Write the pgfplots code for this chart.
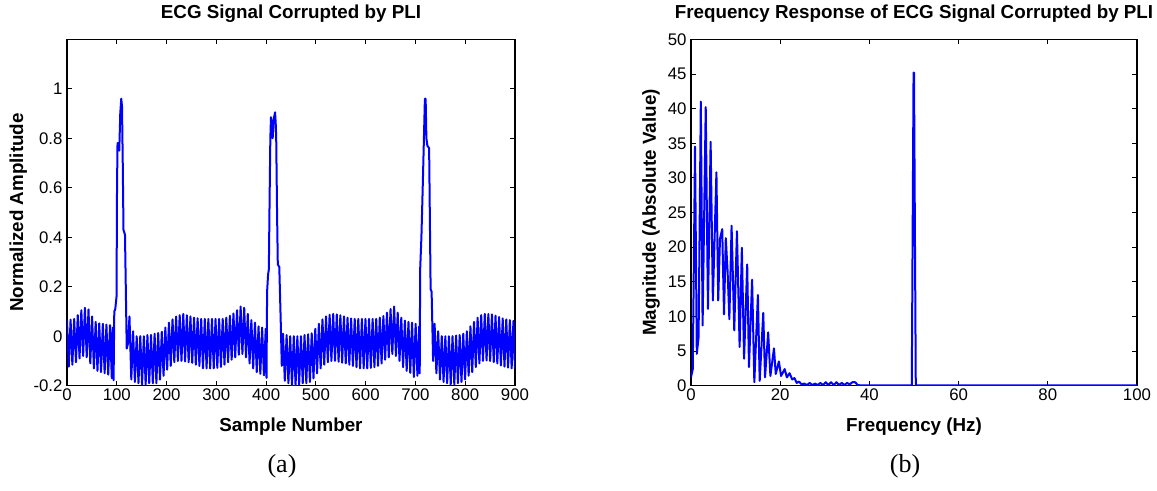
\documentclass[border=0pt]{standalone}
\usepackage{fontspec}
\setmainfont{Liberation Sans}
\newfontfamily\timesfont{Liberation Serif}
\usepackage{pgfplots}
\pgfplotsset{compat=1.18}
\definecolor{mblue}{RGB}{0,0,255}
\pgfplotsset{
  matlab/.style={
    scale only axis,
    height=259.8pt,
    axis line style={line width=0.8pt},
    tick align=inside,
    major tick length=3.5pt,
    every tick/.style={black, line width=0.6pt},
    tick label style={font=\fontsize{12.6}{14}\selectfont},
    xticklabel style={anchor=north, inner sep=0pt, yshift=-2.1pt},
    yticklabel style={anchor=east, inner sep=0pt, xshift=-3.2pt},
    title style={font=\bfseries\fontsize{14.1}{16}\selectfont, at={(0.5,1)}, anchor=base, yshift=9.45pt, inner sep=0pt},
    every axis x label/.style={at={(axis description cs:0.5,0)}, anchor=base, yshift=-34pt, font=\bfseries\fontsize{14.1}{16}\selectfont, inner sep=0pt},
    every axis y label/.style={rotate=90, anchor=base, font=\bfseries\fontsize{14.1}{16}\selectfont, inner sep=0pt},
  },
  sig/.style={mblue, line width=1.5pt, line join=round, no markers},
}
\begin{document}
\begin{tikzpicture}
\useasboundingbox (0,0) rectangle (867.75pt,-368.25pt);
\begin{axis}[matlab,
  at={(50.25pt,-289.28pt)}, anchor=south west,
  width=336pt,
  xmin=0, xmax=900, ymin=-0.2, ymax=1.2,
  xtick={0,100,...,900},
  xticklabels={0,100,200,300,400,500,600,700,800,900},
  ytick={-0.2,0,0.2,0.4,0.6,0.8,1},
  yticklabels={-0.2,0,0.2,0.4,0.6,0.8,1},
  title={ECG Signal Corrupted by PLI},
  xlabel={Sample Number},
  ylabel={Normalized Amplitude},
  ylabel style={at={(axis description cs:-0.0982,0.5)}},
]
\addplot[sig] coordinates {
(0,0.065) (3.6,-0.123) (7.2,0.067) (10.8,-0.115) (14.4,0.07) (18,-0.105) (21.6,0.085) (25.2,-0.09) (28.8,0.105) (32.4,-0.08) (36,0.115) (39.6,-0.085) (43.2,0.108) (46.8,-0.11) (50.4,0.08) (54,-0.13) (57.6,0.058) (61.2,-0.14) (64.8,0.052) (68.4,-0.145) (72,0.05) (75.6,-0.15) (79.2,0.047) (82.8,-0.155) (86.4,0.045) (90,-0.17) (92,0.035) (93.6,-0.178)
(95,0.1) (97,0.11) (99.5,0.16) (100.5,0.6) (101.5,0.78) (104,0.78) (105,0.75) (107,0.9) (109,0.96) (110.5,0.93) (112,0.7) (113.5,0.43) (116.5,0.41) (120,-0.05) (122.5,-0.03) (125.5,0.08)
(129.2,-0.175) (132.8,0.02) (136.4,-0.185) (140,0.0) (143.6,-0.19) (147.2,0.0) (150.8,-0.195) (154.4,0.0) (158,-0.195) (161.6,0.005) (165.2,-0.19) (168.8,0.005) (172.4,-0.19) (176,0.01) (179.6,-0.19) (183.2,0.013) (186.8,-0.175) (190.4,0.018) (194,-0.16) (197.6,0.035) (201.2,-0.135) (204.8,0.055) (208.4,-0.12) (212,0.068) (215.6,-0.105) (219.2,0.08) (222.8,-0.1) (226.4,0.085) (230,-0.1) (233.6,0.09) (237.2,-0.102) (240.8,0.085) (244.4,-0.105) (248,0.08) (251.6,-0.108) (255.2,0.075) (258.8,-0.115) (262.4,0.073) (266,-0.12) (269.6,0.07) (273.2,-0.13) (276.8,0.07) (280.4,-0.13) (284,0.07) (287.6,-0.13) (291.2,0.07) (294.8,-0.13) (298.4,0.07) (302,-0.128) (305.6,0.07) (309.2,-0.124) (312.8,0.07) (316.4,-0.115) (320,0.075) (323.6,-0.105) (327.2,0.083) (330.8,-0.095) (334.4,0.092) (338,-0.085) (341.6,0.105) (345.2,-0.075) (348.8,0.12) (352.4,-0.072) (356,0.115) (359.6,-0.085) (363.2,0.09) (366.8,-0.11) (370.4,0.065) (374,-0.13) (377.6,0.055) (381.2,-0.145) (384.8,0.04) (388.4,-0.152) (392,0.035) (395.6,-0.158) (399.2,0.03)
(400.8,-0.168) (402,0.18) (404,0.25) (405.5,0.27) (407,0.55) (408.5,0.8) (409.8,0.885) (411.3,0.86) (413.2,0.80) (415.5,0.88) (418,0.905) (419.3,0.86) (420.3,0.80) (422,0.5) (423.5,0.29) (426.5,0.28) (429.5,0.05) (431.5,-0.12)
(434,0.01) (437.6,-0.18) (441.2,0.005) (444.8,-0.19) (448.4,0.0) (452,-0.2) (455.6,0.0) (459.2,-0.2) (462.8,0.0) (466.4,-0.195) (470,0.0) (473.6,-0.19) (477.2,0.005) (480.8,-0.19) (484.4,0.008) (488,-0.185) (491.6,0.012) (495.2,-0.17) (498.8,0.03) (502.4,-0.15) (506,0.05) (509.6,-0.13) (513.2,0.068) (516.8,-0.115) (520.4,0.08) (524,-0.105) (527.6,0.087) (531.2,-0.1) (534.8,0.09) (538.4,-0.1) (542,0.088) (545.6,-0.103) (549.2,0.085) (552.8,-0.107) (556.4,0.08) (560,-0.11) (563.6,0.075) (567.2,-0.115) (570.8,0.072) (574.4,-0.12) (578,0.07) (581.6,-0.125) (585.2,0.07) (588.8,-0.13) (592.4,0.07) (596,-0.13) (599.6,0.07) (603.2,-0.13) (606.8,0.07) (610.4,-0.128) (614,0.07) (617.6,-0.125) (621.2,0.07) (624.8,-0.12) (628.4,0.075) (632,-0.11) (635.6,0.082) (639.2,-0.095) (642.8,0.095) (646.4,-0.085) (650,0.11) (653.6,-0.072) (657.2,0.12) (660.8,-0.08) (664.4,0.095) (668,-0.1) (671.6,0.075) (675.2,-0.125) (678.8,0.063) (682.4,-0.14) (686,0.058) (689.6,-0.148) (693.2,0.055) (696.8,-0.165) (700.4,0.05) (704,-0.16) (707.6,0.04)
(708.6,-0.15) (709.5,0.27) (712,0.40) (715,0.63) (719,0.96) (720.5,0.96) (722,0.80) (724,0.77) (727.5,0.76) (730.5,0.19) (732.5,0.18) (735.5,-0.1)
(738.5,0.05) (742.1,-0.15) (745.7,0.02) (749.3,-0.175) (752.9,0.0) (756.5,-0.185) (760.1,0.0) (763.7,-0.19) (767.3,0.0) (770.9,-0.195) (774.5,0.0) (778.1,-0.195) (781.7,0.003) (785.3,-0.19) (788.9,0.005) (792.5,-0.185) (796.1,0.01) (799.7,-0.175) (803.3,0.02) (806.9,-0.16) (810.5,0.04) (814.1,-0.145) (817.7,0.058) (821.3,-0.125) (824.9,0.075) (828.5,-0.11) (832.1,0.085) (835.7,-0.1) (839.3,0.09) (842.9,-0.098) (846.5,0.09) (850.1,-0.1) (853.7,0.088) (857.3,-0.105) (860.9,0.083) (864.5,-0.11) (868.1,0.078) (871.7,-0.118) (875.3,0.072) (878.9,-0.123) (882.5,0.068) (886.1,-0.127) (889.7,0.065) (893.3,-0.13) (896.9,0.062) (900,-0.13)
};
\end{axis}
\begin{axis}[matlab,
  at={(518.25pt,-289.28pt)}, anchor=south west,
  width=334.5pt,
  xmin=0, xmax=100, ymin=0, ymax=50,
  xtick={0,20,...,100},
  xticklabels={0,20,40,60,80,100},
  ytick={0,5,...,50},
  yticklabels={0,5,10,15,20,25,30,35,40,45,50},
  title={Frequency Response of ECG Signal Corrupted by PLI},
  xlabel={Frequency (Hz)},
  ylabel={Magnitude (Absolute Value)},
  ylabel style={at={(axis description cs:-0.0785,0.5)}},
]
\addplot[sig] coordinates {
(0,1.2) (0.4,2.4) (0.9,34.5) (1.3,4.6) (1.7,7.0) (2.2,41.0) (2.6,8.7) (3.3,40.2) (3.8,11.1) (4.4,35.2) (4.9,12.3) (5.7,30.8) (6.1,12.3) (6.5,21.2) (7.0,22.6) (7.4,10.3) (7.8,21.3) (8.2,16.6) (8.6,9.6) (9.1,23.1) (9.7,8.0) (10.3,22.3) (10.9,5.6) (11.4,19.9) (11.9,3.9) (12.6,17.5) (13.0,2.7) (13.7,15.3) (14.2,0.5) (15.0,13.1) (15.4,0.7) (16.2,10.5) (16.6,1.2) (17.3,7.7) (17.8,1.4) (18.6,5.4) (19.0,1.7) (19.7,3.5) (20.2,1.4) (21.0,2.4) (21.5,1.2) (22.1,1.8) (22.7,0.9) (23.2,1.1) (23.7,0.4) (24.2,0.6) (24.8,0.2) (25.4,0.3) (26.0,0.1) (26.6,0.4) (27.2,0.1) (27.8,0.3) (28.4,0.1) (29.0,0.4) (29.6,0.1) (30.2,0.5) (30.8,0.1) (31.4,0.5) (32.0,0.1) (32.6,0.5) (33.2,0.1) (33.8,0.4) (34.4,0.1) (35.0,0.4) (35.6,0.2) (36.2,0.5) (36.8,0.5) (37.4,0.1) (38,0.05) (49.5,0.05) (49.9,45.2) (50.0,45.2) (50.4,0.05) (100,0.05)
};
\end{axis}
\node[font=\timesfont\fontsize{19.5}{21}\selectfont] at (211.5pt,-349.5pt) {(a)};
\node[font=\timesfont\fontsize{19.5}{21}\selectfont] at (678.75pt,-349.5pt) {(b)};
\end{tikzpicture}
\end{document}
